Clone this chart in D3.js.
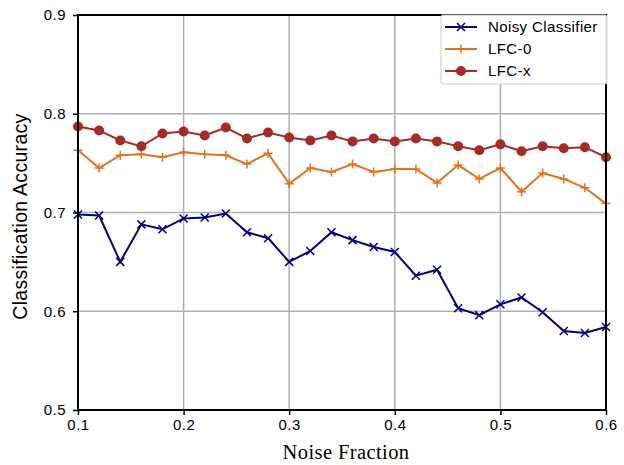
<!DOCTYPE html>
<html><head><meta charset="utf-8">
<script src="https://cdn.jsdelivr.net/npm/d3@7"></script>
<style>body{margin:0;background:#fff}svg{display:block}</style>
</head><body>
<svg id="c" width="624" height="465"></svg>
<script>
const noiseFraction = [0.10,0.12,0.14,0.16,0.18,0.20,0.22,0.24,0.26,0.28,0.30,0.32,0.34,0.36,0.38,0.40,0.42,0.44,0.46,0.48,0.50,0.52,0.54,0.56,0.58,0.60];
const noisyClassifier = [0.698,0.697,0.650,0.688,0.683,0.694,0.695,0.699,0.680,0.674,0.650,0.661,0.680,0.672,0.665,0.660,0.636,0.642,0.603,0.596,0.607,0.614,0.599,0.580,0.578,0.584];
const lfc0 = [0.763,0.745,0.758,0.759,0.756,0.761,0.759,0.758,0.749,0.760,0.729,0.745,0.741,0.749,0.741,0.744,0.744,0.730,0.748,0.734,0.745,0.721,0.740,0.734,0.725,0.709];
const lfcx = [0.787,0.783,0.773,0.767,0.780,0.782,0.778,0.786,0.775,0.781,0.776,0.773,0.778,0.772,0.775,0.772,0.775,0.772,0.767,0.763,0.769,0.762,0.767,0.765,0.766,0.756];
const xTicks = [0.1,0.2,0.3,0.4,0.5,0.6];
const yTicks = [0.5,0.6,0.7,0.8,0.9];
const seriesNames = ["Noisy Classifier","LFC-0","LFC-x"];

const svg = d3.select("#c");
const L = 78, R = 606, T = 15, B = 410;
const x = d3.scaleLinear().domain([0.1,0.6]).range([L,R]);
const y = d3.scaleLinear().domain([0.5,0.9]).range([B,T]);
const sans = "'Liberation Sans', Arial, sans-serif";
const serif = "'Liberation Serif', 'Times New Roman', serif";

// grid
const g = svg.append("g");
g.selectAll(".gx").data(xTicks).enter().append("line")
  .attr("x1",d=>x(d)).attr("x2",d=>x(d)).attr("y1",T).attr("y2",B)
  .attr("stroke","#b0b0b0").attr("stroke-width",1.5);
g.selectAll(".gy").data(yTicks).enter().append("line")
  .attr("y1",d=>y(d)).attr("y2",d=>y(d)).attr("x1",L).attr("x2",R)
  .attr("stroke","#b0b0b0").attr("stroke-width",1.5);

// axes
const ax = svg.append("g").attr("transform",`translate(0,${B})`)
  .call(d3.axisBottom(x).tickValues(xTicks).tickFormat(d3.format(".1f")).tickSize(5).tickPadding(4));
const ay = svg.append("g").attr("transform",`translate(${L},0)`)
  .call(d3.axisLeft(y).tickValues(yTicks).tickFormat(d3.format(".1f")).tickSize(5).tickPadding(7));
[ax,ay].forEach(a=>{
  a.select(".domain").remove();
  a.selectAll("line").attr("stroke","#000").attr("stroke-width",1.5);
  a.selectAll("text").attr("font-family",sans).attr("font-size",15).attr("fill","#000").attr("letter-spacing","0.5px");
});

const colors = ["#000080","#e1731f","#a52a2a"];
const data = [noisyClassifier, lfc0, lfcx];
const line = d3.line().x((d,i)=>x(noiseFraction[i])).y(d=>y(d));

function marker(sel, type, color){
  if(type===2){
    sel.append("circle").attr("r",5).attr("fill",color);
  } else if(type===0){
    sel.append("path").attr("d","M-4,-4L4,4M-4,4L4,-4").attr("stroke",color).attr("stroke-width",1.5).attr("fill","none");
  } else {
    sel.append("path").attr("d","M-4.5,0L4.5,0M0,-4.5L0,4.5").attr("stroke",color).attr("stroke-width",1.5).attr("fill","none");
  }
}

data.forEach((s,k)=>{
  svg.append("path").datum(s).attr("d",line).attr("fill","none")
    .attr("stroke",colors[k]).attr("stroke-width",2);
  svg.append("g").selectAll("g").data(s).enter().append("g")
    .attr("transform",(d,i)=>`translate(${x(noiseFraction[i])},${y(d)})`)
    .each(function(){ marker(d3.select(this),k,colors[k]); });
});

// frame
svg.append("rect").attr("x",L).attr("y",T).attr("width",R-L).attr("height",B-T)
  .attr("fill","none").attr("stroke","#000").attr("stroke-width",2);

// legend
const lg = svg.append("g");
lg.append("rect").attr("x",441).attr("y",15).attr("width",166).attr("height",69).attr("rx",2)
  .attr("fill","#fff").attr("fill-opacity",0.9).attr("stroke","#cccccc").attr("stroke-width",1);
seriesNames.forEach((n,k)=>{
  const yy = 27 + k*22;
  lg.append("line").attr("x1",445).attr("x2",477).attr("y1",yy).attr("y2",yy)
    .attr("stroke",colors[k]).attr("stroke-width",2);
  const m = lg.append("g").attr("transform",`translate(461,${yy})`);
  marker(m,k,colors[k]);
  lg.append("text").attr("x",488).attr("y",yy+5).text(n)
    .attr("font-family",sans).attr("font-size",15).attr("letter-spacing","0.4px");
});

// axis labels
svg.append("text").attr("x",(L+R)/2+4).attr("y",459).attr("text-anchor","middle")
  .attr("font-family",serif).attr("font-size",20.5).attr("letter-spacing","0.4px").text("Noise Fraction");
svg.append("text").attr("transform",`translate(27,${(T+B)/2+4}) rotate(-90)`).attr("text-anchor","middle")
  .attr("font-family",sans).attr("font-size",19.5).attr("letter-spacing","0.3px").text("Classification Accuracy");
</script>
</body></html>
